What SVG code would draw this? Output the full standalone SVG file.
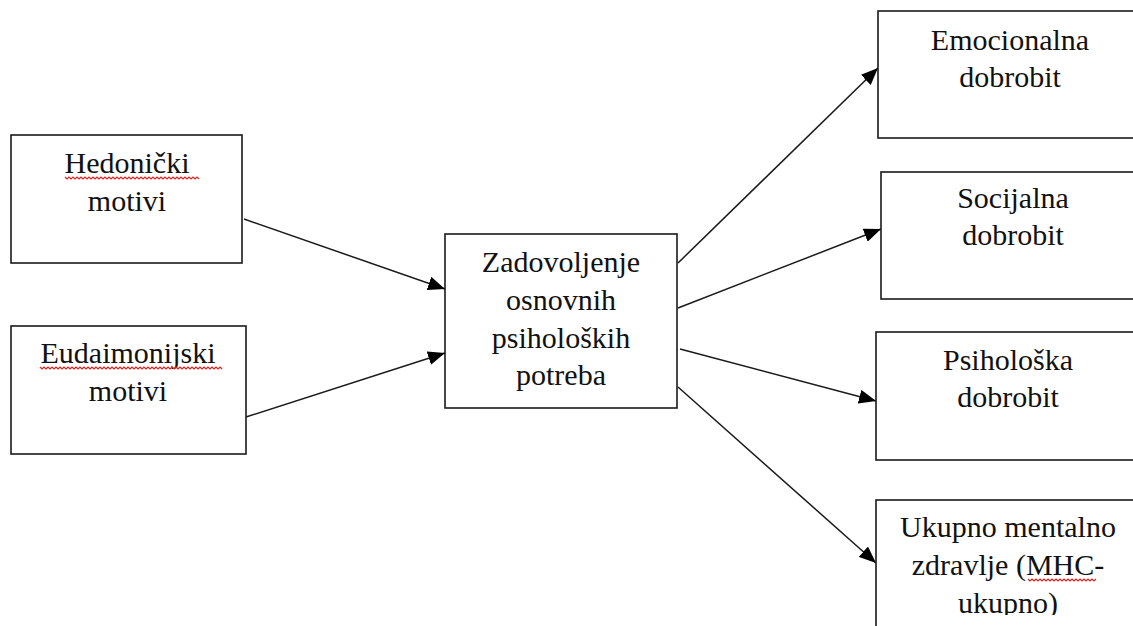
<svg xmlns="http://www.w3.org/2000/svg" width="1133" height="626" viewBox="0 0 1133 626">
<style>
.box{fill:#fff;stroke:#1a1a1a;stroke-width:1.6}
.t{font-family:'Liberation Serif','Times New Roman',Times,serif;font-size:30px;fill:#111;text-anchor:middle}
.edge{stroke:#1a1a1a;stroke-width:1.5;fill:none;marker-end:url(#ah)}
.sq{stroke:#e02020;stroke-width:1.1;fill:none}
</style>
<defs>
<marker id="ah" markerUnits="userSpaceOnUse" markerWidth="18" markerHeight="14" refX="17" refY="7" orient="auto">
<path d="M0,0 L17,7 L0,14 z" fill="#000"/>
</marker>
<clipPath id="clip4"><rect x="876" y="500" width="300" height="115"/></clipPath>
</defs>
<rect width="1133" height="626" fill="#fff"/>
<g id="connectors">
<line class="edge" x1="244" y1="219" x2="445" y2="289"/>
<line class="edge" x1="246" y1="417" x2="445" y2="353"/>
<line class="edge" x1="678" y1="263" x2="878" y2="68"/>
<line class="edge" x1="678" y1="308" x2="881" y2="229"/>
<line class="edge" x1="680" y1="349" x2="876" y2="401"/>
<line class="edge" x1="678" y1="387" x2="876" y2="563"/>
</g>
<g id="hedonicki">
<rect class="box" x="11" y="135" width="231" height="128"/>
<text class="t" x="127" y="173">Hedonički</text>
<text class="t" x="127" y="211">motivi</text>
<path class="sq" d="M65,177 l2,2 l2,-2 l2,2 l2,-2 l2,2 l2,-2 l2,2 l2,-2 l2,2 l2,-2 l2,2 l2,-2 l2,2 l2,-2 l2,2 l2,-2 l2,2 l2,-2 l2,2 l2,-2 l2,2 l2,-2 l2,2 l2,-2 l2,2 l2,-2 l2,2 l2,-2 l2,2 l2,-2 l2,2 l2,-2 l2,2 l2,-2 l2,2 l2,-2 l2,2 l2,-2 l2,2 l2,-2 l2,2 l2,-2 l2,2 l2,-2 l2,2 l2,-2 l2,2 l2,-2 l2,2 l2,-2 l2,2 l2,-2 l2,2 l2,-2 l2,2 l2,-2 l2,2 l2,-2 l2,2 l2,-2 l2,2 l2,-2 l2,2 l2,-2 l2,2 l2,-2 l2,2"/>
</g>
<g id="eudaimonijski">
<rect class="box" x="11" y="326" width="235" height="128"/>
<text class="t" x="128" y="363">Eudaimonijski</text>
<text class="t" x="128" y="401">motivi</text>
<path class="sq" d="M40,367 l2,2 l2,-2 l2,2 l2,-2 l2,2 l2,-2 l2,2 l2,-2 l2,2 l2,-2 l2,2 l2,-2 l2,2 l2,-2 l2,2 l2,-2 l2,2 l2,-2 l2,2 l2,-2 l2,2 l2,-2 l2,2 l2,-2 l2,2 l2,-2 l2,2 l2,-2 l2,2 l2,-2 l2,2 l2,-2 l2,2 l2,-2 l2,2 l2,-2 l2,2 l2,-2 l2,2 l2,-2 l2,2 l2,-2 l2,2 l2,-2 l2,2 l2,-2 l2,2 l2,-2 l2,2 l2,-2 l2,2 l2,-2 l2,2 l2,-2 l2,2 l2,-2 l2,2 l2,-2 l2,2 l2,-2 l2,2 l2,-2 l2,2 l2,-2 l2,2 l2,-2 l2,2 l2,-2 l2,2 l2,-2 l2,2 l2,-2 l2,2 l2,-2 l2,2 l2,-2 l2,2 l2,-2 l2,2 l2,-2 l2,2 l2,-2 l2,2 l2,-2 l2,2 l2,-2 l2,2 l2,-2 l2,2 l2,-2 l2,2"/>
</g>
<g id="zadovoljenje">
<rect class="box" x="445" y="234" width="232" height="174"/>
<text class="t" x="561" y="272">Zadovoljenje</text>
<text class="t" x="561" y="310">osnovnih</text>
<text class="t" x="561" y="348">psiholoških</text>
<text class="t" x="561" y="385">potreba</text>
</g>
<g id="emocionalna">
<rect class="box" x="878" y="11" width="270" height="127"/>
<text class="t" x="1010" y="50">Emocionalna</text>
<text class="t" x="1010" y="87">dobrobit</text>
</g>
<g id="socijalna">
<rect class="box" x="881" y="172" width="270" height="127"/>
<text class="t" x="1013" y="208">Socijalna</text>
<text class="t" x="1013" y="245">dobrobit</text>
</g>
<g id="psiholoska">
<rect class="box" x="876" y="332" width="270" height="128"/>
<text class="t" x="1008" y="370">Psihološka</text>
<text class="t" x="1008" y="407">dobrobit</text>
</g>
<g id="ukupno">
<rect class="box" x="876" y="500" width="270" height="140"/>
<g clip-path="url(#clip4)">
<text class="t" x="1008" y="537">Ukupno mentalno</text>
<text class="t" x="1008" y="575">zdravlje (MHC-</text>
<text class="t" x="1008" y="613">ukupno)</text>
</g>
<path class="sq" d="M1028,579 l2,2 l2,-2 l2,2 l2,-2 l2,2 l2,-2 l2,2 l2,-2 l2,2 l2,-2 l2,2 l2,-2 l2,2 l2,-2 l2,2 l2,-2 l2,2 l2,-2 l2,2 l2,-2 l2,2 l2,-2 l2,2 l2,-2 l2,2 l2,-2 l2,2 l2,-2 l2,2 l2,-2 l2,2 l2,-2 l2,2 l2,-2"/>
</g>
</svg>
